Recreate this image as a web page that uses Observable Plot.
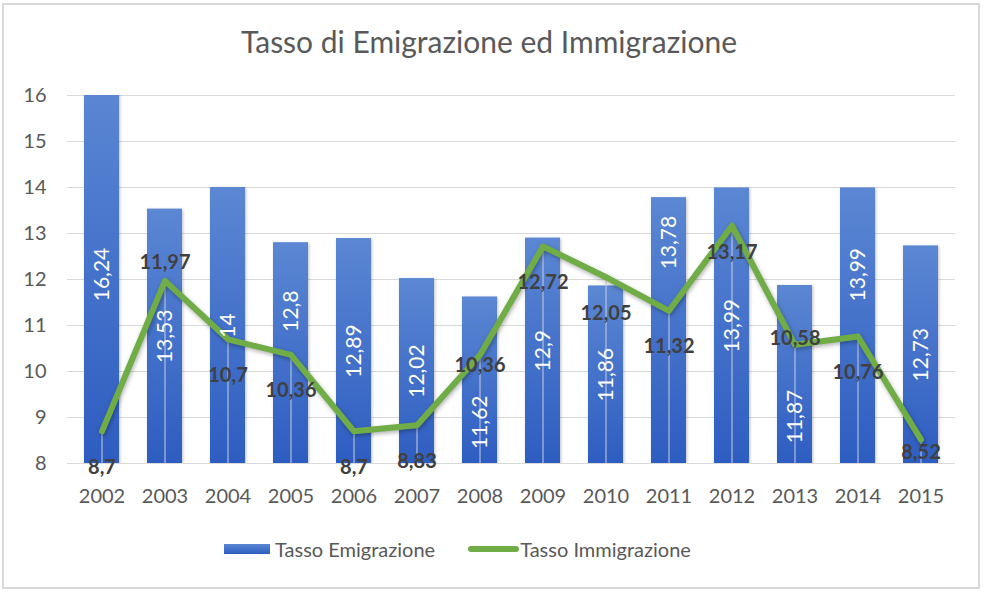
<!DOCTYPE html>
<html><head><meta charset="utf-8">
<script src="https://cdn.jsdelivr.net/npm/d3@7"></script>
<script src="https://cdn.jsdelivr.net/npm/@observablehq/plot@0.6"></script>
<style>
  html,body{margin:0;padding:0;background:#fff;}
  body{position:relative;width:984px;height:592px;overflow:hidden;font-family:Lato,"Open Sans",sans-serif;}
  #frame{position:absolute;left:2px;top:3px;width:978px;height:586px;border:2px solid #d9d9d9;box-sizing:border-box;}
  #title{position:absolute;left:0;width:978px;top:23px;text-align:center;font-size:30px;color:#595959;white-space:nowrap;}
  #chart{position:absolute;left:0;top:80px;}
  #legend{position:absolute;left:224px;top:537px;display:flex;align-items:center;font-size:20px;color:#595959;white-space:nowrap;}
  #legend .it{display:flex;align-items:center;}
</style></head>
<body>
<div id="frame"></div>
<div id="title">Tasso di Emigrazione ed Immigrazione</div>
<div id="chart"></div>
<div id="legend">
  <div class="it"><svg width="51" height="14"><defs><linearGradient id="lg" x1="0" y1="0" x2="0" y2="1"><stop offset="0" stop-color="#5B87D3"/><stop offset="1" stop-color="#2E5DC1"/></linearGradient></defs><rect x="0" y="2" width="46" height="10" fill="url(#lg)"/></svg><span>Tasso Emigrazione</span></div>
  <div class="it" style="margin-left:33px"><svg width="52" height="14"><line x1="3" y1="7" x2="48" y2="7" stroke="#70AD47" stroke-width="6" stroke-linecap="round"/></svg><span>Tasso Immigrazione</span></div>
</div>
<script>
const years = ["2002","2003","2004","2005","2006","2007","2008","2009","2010","2011","2012","2013","2014","2015"];
const emigrazione = [16.24,13.53,14,12.8,12.89,12.02,11.62,12.9,11.86,13.78,13.99,11.87,13.99,12.73];
const immigrazione = [8.7,11.97,10.7,10.36,8.7,8.83,10.36,12.72,12.05,11.32,13.17,10.58,10.76,8.52];
const yTicks = [8,9,10,11,12,13,14,15,16];

const yMin = 8, yMax = 16;
const data = years.map((y,i)=>({year:y, emi:emigrazione[i], imm:immigrazione[i]}));
const fmt = v => String(v).replace(".", ",");

// label nudges in pixels (labels were placed by hand in the original)
const barNudge = {"2002":-5,"2005":-42,"2008":42,"2011":-88,"2013":42,"2014":-51};
const lineNudge = {"2003":-18,"2008":11,"2012":27,"2013":-6,"2015":13};

const barLabels = data.map(d => Plot.text([d], {
  x:"year", y: d => (yMin + Math.min(d.emi, yMax))/2, text: d => fmt(d.emi),
  rotate:-90, fill:"white", fontSize:21, dy: barNudge[d.year] ?? 0
}));
const lineLabels = data.map(d => Plot.text([d], {
  x:"year", y:"imm", text: d => fmt(d.imm), fill:"#404040",
  fontSize:20, fontWeight:"bold", dy: lineNudge[d.year] ?? 36
}));

const chart = Plot.plot({
  width: 984, height: 430,
  marginLeft: 67, marginRight: 29, marginTop: 15, marginBottom: 47,
  style: {fontFamily: "Lato, 'Open Sans', sans-serif", fontSize: "20px", color:"#595959", background:"transparent", overflow:"visible"},
  x: {domain: years, paddingInner: 0.45, paddingOuter: 0.225, label: null, tickSize: 0, tickPadding: 25},
  y: {domain: [yMin, yMax], ticks: yTicks, label: null, tickSize: 0, tickPadding: 21},
  marks: [
    Plot.gridY(yTicks, {stroke:"#d9d9d9", strokeOpacity:1}),
    Plot.barY(data, {x:"year", y1: yMin, y2:"emi", fill:"#4472C4", clip:true}),
    Plot.ruleX(data, {x:"year", y1: yMin, y2:"imm", stroke:"#c9cfdb", strokeWidth:1}),
    Plot.line(data, {x:"year", y:"imm", stroke:"#70AD47", strokeWidth:6, strokeLinejoin:"round", strokeLinecap:"round"}),
    ...barLabels,
    ...lineLabels
  ]
});

const svg = d3.select(chart);
const defs = svg.insert("defs", ":first-child");
const g = defs.append("linearGradient").attr("id","bg").attr("x1",0).attr("y1",0).attr("x2",0).attr("y2",1);
g.append("stop").attr("offset",0).attr("stop-color","#5B87D3");
g.append("stop").attr("offset",1).attr("stop-color","#2E5DC1");
svg.selectAll("g[fill='#4472C4']").attr("fill","url(#bg)");
svg.selectAll("rect[fill='#4472C4']").attr("fill","url(#bg)");
svg.selectAll("g[fill='url(#bg)'] rect, rect[fill='url(#bg)']").style("filter","drop-shadow(1px 1px 1.5px rgba(0,0,0,0.25))");
svg.selectAll("path").filter(function(){
  const s = (this.getAttribute("stroke")||this.parentNode.getAttribute("stroke")||"").toLowerCase();
  return s === "#70ad47";
}).style("filter","drop-shadow(1px 2px 2px rgba(0,0,0,0.3))");
document.getElementById("chart").appendChild(chart);
</script>
</body></html>
